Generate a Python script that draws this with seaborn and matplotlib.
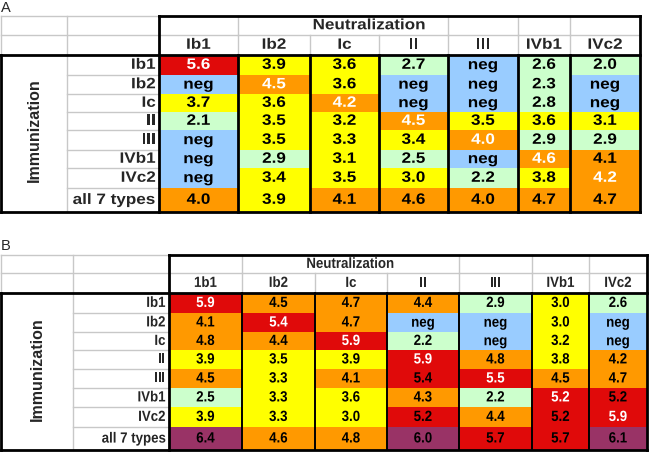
import numpy as np
import matplotlib
matplotlib.use('Agg')
import matplotlib.pyplot as plt
from matplotlib.colors import ListedColormap
from matplotlib.transforms import Affine2D
from matplotlib import patheffects
import seaborn as sns

sns.set_theme(style='white')
plt.rcParams['font.family'] = ['Liberation Sans', 'DejaVu Sans']

# ------------------------------
# Data (log10 neutralization titers, "neg" = not detected)
# ------------------------------
neg = np.nan
row_labels = ['Ib1', 'Ib2', 'Ic', 'II', 'III', 'IVb1', 'IVc2', 'all 7 types']
cols_a = ['Ib1', 'Ib2', 'Ic', 'II', 'III', 'IVb1', 'IVc2']
cols_b = ['1b1', 'Ib2', 'Ic', 'II', 'III', 'IVb1', 'IVc2']

values_a = [
    [5.6, 3.9, 3.6, 2.7, neg, 2.6, 2.0],
    [neg, 4.5, 3.6, neg, neg, 2.3, neg],
    [3.7, 3.6, 4.2, neg, neg, 2.8, neg],
    [2.1, 3.5, 3.2, 4.5, 3.5, 3.6, 3.1],
    [neg, 3.5, 3.3, 3.4, 4.0, 2.9, 2.9],
    [neg, 2.9, 3.1, 2.5, neg, 4.6, 4.1],
    [neg, 3.4, 3.5, 3.0, 2.2, 3.8, 4.2],
    [4.0, 3.9, 4.1, 4.6, 4.0, 4.7, 4.7],
]
values_b = [
    [5.9, 4.5, 4.7, 4.4, 2.9, 3.0, 2.6],
    [4.1, 5.4, 4.7, neg, neg, 3.0, neg],
    [4.8, 4.4, 5.9, 2.2, neg, 3.2, neg],
    [3.9, 3.5, 3.9, 5.9, 4.8, 3.8, 4.2],
    [4.5, 3.3, 4.1, 5.4, 5.5, 4.5, 4.7],
    [2.5, 3.3, 3.6, 4.3, 2.2, 5.2, 5.2],
    [3.9, 3.3, 3.0, 5.2, 4.4, 5.2, 5.9],
    [6.4, 4.6, 4.8, 6.0, 5.7, 5.7, 6.1],
]

# colour classes: neg, <3, 3.x, 4.x, 5.x, >=6
class_colors = ['#99CCFF', '#CCFFCC', '#FFFF00', '#FF9900', '#E00A0A', '#993366']
class_bins = [3, 4, 5, 6]

W, H = 650, 453
fig = plt.figure(figsize=(W / 100, H / 100), dpi=100)
fig.patch.set_facecolor('white')

GRAY = '#C8C8C8'


class Squeeze(patheffects.AbstractPathEffect):
    """Scale the glyphs around the text's anchor (mimics a narrow font)."""

    def __init__(self, sx=1.0, sy=1.0, anchor='center'):
        super().__init__()
        self.sx, self.sy, self.anchor = sx, sy, anchor

    def draw_path(self, renderer, gc, tpath, affine, rgbFace=None):
        v = affine.transform(tpath.vertices)
        if len(v) == 0:
            return
        x0, x1 = v[:, 0].min(), v[:, 0].max()
        cx = x1 if self.anchor == 'right' else (x0 + x1) / 2
        cy = (v[:, 1].min() + v[:, 1].max()) / 2
        aff = affine + Affine2D().translate(-cx, -cy).scale(self.sx, self.sy) \
            .translate(cx, cy)
        renderer.draw_path(gc, tpath, aff, rgbFace)


def draw_panel(xe, ye, values, cols, letter, letter_y, size, sx, sy,
               neut_x, col_lw):
    vals = np.array(values, dtype=float)
    classes = np.where(np.isnan(vals), 0, np.digitize(vals, class_bins) + 1)
    labels = np.where(np.isnan(vals), 'neg',
                      np.char.mod('%.1f', np.nan_to_num(vals)))
    pe_c = [Squeeze(sx, sy, 'center')]
    pe_r = [Squeeze(sx, sy, 'right')]

    ax = fig.add_axes([xe[0] / W, 1 - ye[-1] / H,
                       (xe[-1] - xe[0]) / W, (ye[-1] - ye[0]) / H])
    xi = np.arange(-2, 8)
    yi = np.arange(-2, 9)
    ax.set_xscale('function', functions=(lambda v: np.interp(v, xi, xe),
                                         lambda p: np.interp(p, xe, xi)))
    ax.set_yscale('function', functions=(lambda v: np.interp(v, yi, ye),
                                         lambda p: np.interp(p, ye, yi)))

    sns.heatmap(classes, ax=ax, cmap=ListedColormap(class_colors),
                vmin=-0.5, vmax=5.5, cbar=False, annot=labels, fmt='',
                linewidths=0, xticklabels=False, yticklabels=False,
                annot_kws=dict(fontsize=size, fontweight='bold'))
    n_rows, n_cols = classes.shape
    for k, t in enumerate(ax.texts):
        i, j = divmod(k, n_cols)
        t.set_color('white' if i == j else 'black')
        t.set_path_effects(pe_c)

    ax.set_xlim(-2, n_cols)
    ax.set_ylim(n_rows, -2)
    ax.set_xticks([])
    ax.set_yticks([])
    for s in ax.spines.values():
        s.set_visible(False)

    def line(x, y, color, lw):
        ax.plot(x, y, color=color, lw=lw, clip_on=False,
                solid_capstyle='projecting', zorder=3 if color != GRAY else 2)

    # light grid in header and label cells
    line([-2, 0], [-2, -2], GRAY, 1)
    line([-2, n_cols], [-1, -1], GRAY, 1)
    line([-2, -2], [-2, 0], GRAY, 1)
    line([-1, -1], [-2, n_rows], GRAY, 1)
    for r in range(1, n_rows):
        line([-1, 0], [r, r], GRAY, 1)
    for c in range(1, n_cols):
        line([c, c], [-1, 0], GRAY, 1)
        if c not in (2, 3):
            line([c, c], [-2, -1], GRAY, 1)

    # black borders
    line([0, n_cols], [-2, -2], 'black', 2)
    line([0, 0], [-2, n_rows], 'black', 2)
    line([n_cols, n_cols], [-2, n_rows], 'black', 2)
    line([-2, n_cols], [0, 0], 'black', 2)
    line([-2, -2], [0, n_rows], 'black', 2)
    line([-2, n_cols], [n_rows, n_rows], 'black', 2)
    for c in range(1, n_cols):
        line([c, c], [0, n_rows], 'black', col_lw)

    # texts
    for j, c in enumerate(cols):
        ax.text(j + 0.5, -0.5, c, ha='center', va='center', fontsize=size,
                fontweight='bold', path_effects=pe_c)
    for i, r in enumerate(row_labels):
        ax.text(-0.035, i + 0.5, r, ha='right', va='center', fontsize=size,
                fontweight='bold', path_effects=pe_r)
    ax.text(neut_x, -1.5, 'Neutralization', ha='center', va='center',
            fontsize=size, fontweight='bold', path_effects=pe_c)
    ax.text(-1.5, n_rows / 2, 'Immunization', ha='center', va='center',
            rotation=90, fontsize=11.5, fontweight='bold')
    fig.text(0.5 / W, 1 - letter_y / H, letter, ha='left', va='center',
             fontsize=10.5)


draw_panel([1, 67, 159, 238, 310, 379, 448, 518, 570, 640],
           [16, 35, 55, 75, 94, 112, 130, 150, 168, 188, 212],
           values_a, cols_a, 'A', 8.5, 12.3, 1.0, 0.88, 2.86, 2)

draw_panel([1, 73, 169, 242, 315, 387, 459, 532, 589, 647],
           [255, 273, 293, 313, 332, 350, 369, 388, 407, 427, 450],
           values_b, cols_b, 'B', 245.5, 11.8, 0.81, 0.9, 2.49, 1.4)

fig.savefig('out.png', dpi=100, facecolor='white')
